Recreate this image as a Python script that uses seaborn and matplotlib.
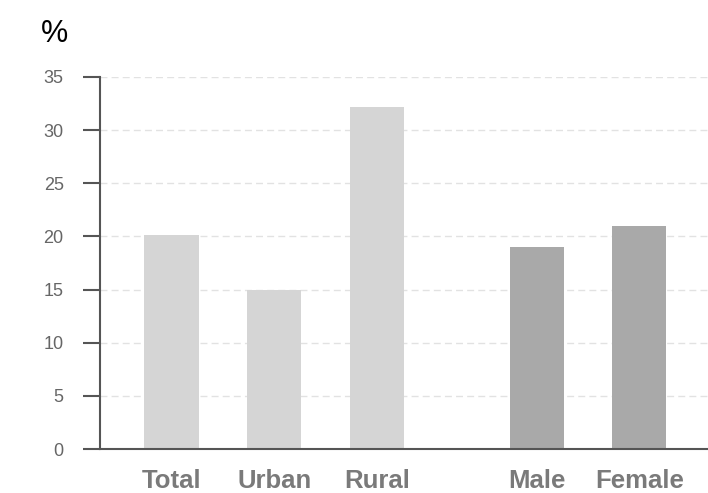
import matplotlib.pyplot as plt
import pandas as pd
import seaborn as sns

# values
categories = ['Total', 'Urban', 'Rural', 'Male', 'Female']
values = [20.1, 15.0, 32.2, 19.0, 21.0]
groups = ['area', 'area', 'area', 'sex', 'sex']
# Male/Female sit a bit further right than the others (gap in the original)
positions = [0, 1, 2, 3.56, 4.56]

df = pd.DataFrame({'pos': positions, 'value': values, 'group': groups})

sns.set_style('white')
plt.rcParams['font.family'] = ['Liberation Sans', 'DejaVu Sans']
fig = plt.figure(figsize=(7.08, 4.93), dpi=100)
ax = fig.add_axes([0.141, 0.089, 0.859, 0.755])

sns.barplot(data=df, x='pos', y='value', hue='group', native_scale=True,
            dodge=False, width=0.53, palette={'area': '#d5d5d5', 'sex': '#a9a9a9'},
            legend=False, ax=ax, saturation=1, linewidth=0)

ax.set_ylim(0, 35)
ax.set_xlim(-0.7, 5.23)
ax.set_yticks(range(0, 36, 5))
ax.set_xticks(positions)
ax.set_xticklabels(categories, fontsize=18.5, fontweight='bold', color='#7a7a7a')
ax.tick_params(axis='y', left=True, direction='out', length=12, width=1.5,
               color='#555555', labelsize=13, labelcolor='#666666', pad=14)
ax.tick_params(axis='x', bottom=False, length=0, pad=14)
ax.set_xlabel('')
ax.set_ylabel('')

# dashed light grid lines
ax.yaxis.grid(True, linestyle=(0, (5, 3)), color='#e2e2e2', linewidth=1)
ax.set_axisbelow(True)

for side in ['top', 'right']:
    ax.spines[side].set_visible(False)
ax.spines['left'].set_color('#555555')
ax.spines['left'].set_linewidth(1.5)
ax.spines['bottom'].set_color('#555555')
ax.spines['bottom'].set_linewidth(1.5)

fig.text(0.058, 0.915, '%', fontsize=22, color='black')

fig.savefig('out.png', dpi=100)
